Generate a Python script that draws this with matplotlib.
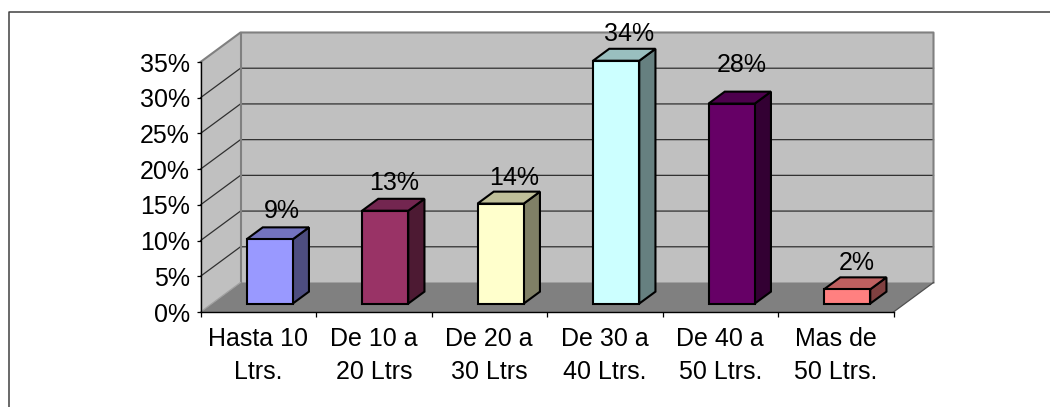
import matplotlib
matplotlib.use("Agg")
import matplotlib.pyplot as plt
from matplotlib.lines import Line2D
from matplotlib.patches import Polygon

categories = ["Hasta 10\nLtrs.", "De 10 a\n20 Ltrs", "De 20 a\n30 Ltrs", "De 30 a\n40 Ltrs.", "De 40 a\n50 Ltrs.", "Mas de\n50 Ltrs."]
values = [9, 13, 14, 34, 28, 2]
value_labels = ["9%", "13%", "14%", "34%", "28%", "2%"]
y_ticks = [0, 5, 10, 15, 20, 25, 30, 35]
y_tick_labels = ["0%", "5%", "10%", "15%", "20%", "25%", "30%", "35%"]

front_colors = ["#9999FF", "#993366", "#FFFFCC", "#CCFFFF", "#660066", "#FF8080"]
top_colors = ["#7373BF", "#732650", "#BFBF99", "#99BFBF", "#4D004D", "#BF6060"]
side_colors = ["#4D4D80", "#4D1A33", "#808066", "#668080", "#330033", "#804040"]

# label shifts in pixels, the original labels are not placed evenly
label_dx = [12, 9, 13.5, 12.5, 10, 9.5]
label_dy = [28, 27.5, 25.5, 27, 38.5, 26]

W, H = 1050, 407
plt.rcParams["font.family"] = ["Liberation Sans", "DejaVu Sans"]

fig = plt.figure(figsize=(W / 100, H / 100), dpi=100)
fig.add_artist(Line2D([8.5 / W, 8.5 / W, 1], [0, 1 - 12 / H, 1 - 12 / H], color="#404040", lw=1.1))

ax = fig.add_axes([200.5 / W, (H - 312) / H, 693 / W, 250 / H])
ax.set_xlim(0, 6)
ax.set_ylim(0, 35)
ax.patch.set_visible(False)

# depth of the fake 3d box, in data units
DX = 40 / 115.5
DY = 29.5 / (250 / 35)
BAR_W = 0.4
D0, D1 = 0.285, 0.69


def pt(x, y, d=0.0):
    return (x + d * DX, y + d * DY)


def poly(points, fc, ec="none", lw=0, z=1):
    ax.add_patch(Polygon(points, closed=True, facecolor=fc, edgecolor=ec, linewidth=lw,
                         zorder=z, clip_on=False, joinstyle="miter"))


# walls and floor
poly([pt(0, 0, 1), pt(6, 0, 1), pt(6, 35, 1), pt(0, 35, 1)], "#C0C0C0", z=1)
poly([pt(0, 0), pt(0, 35), pt(0, 35, 1), pt(0, 0, 1)], "#C0C0C0", z=1)
poly([pt(0, 0), pt(6, 0), pt(6, 0, 1), pt(0, 0, 1)], "#808080", z=1.2)

for t in y_ticks[1:-1]:
    ax.plot(*zip(pt(0, t), pt(0, t, 1), pt(6, t, 1)), color="#303030", lw=0.9, zorder=1.1, clip_on=False)

ax.plot(*zip(pt(0, 35), pt(0, 35, 1), pt(6, 35, 1), pt(6, 0, 1)), color="#808080", lw=1.5, zorder=1.3, clip_on=False)
ax.plot(*zip(pt(0, 0, 1), pt(0, 35, 1)), color="#808080", lw=1.5, zorder=1.3, clip_on=False)
ax.plot(*zip(pt(0, 0), pt(0, 0, 1)), color="#A0A0A0", lw=0.9, zorder=1.3, clip_on=False)
ax.plot(*zip(pt(6, 0), pt(6, 0, 1)), color="#505050", lw=0.9, zorder=1.3, clip_on=False)

# bars
for i, v in enumerate(values):
    x0 = i + 0.5 - BAR_W / 2
    x1 = i + 0.5 + BAR_W / 2
    z = 3 + i
    poly([pt(x1, 0, D0), pt(x1, 0, D1), pt(x1, v, D1), pt(x1, v, D0)], side_colors[i], "black", 1.5, z)
    poly([pt(x0, v, D0), pt(x1, v, D0), pt(x1, v, D1), pt(x0, v, D1)], top_colors[i], "black", 1.5, z)
    poly([pt(x0, 0, D0), pt(x1, 0, D0), pt(x1, v, D0), pt(x0, v, D0)], front_colors[i], "black", 1.5, z + 0.5)
    ax.annotate(value_labels[i], xy=pt(i + 0.5, v, D0), xytext=(label_dx[i] * 0.72, label_dy[i] * 0.72),
                textcoords="offset points", ha="center", va="center", fontsize=18, color="black",
                zorder=20, annotation_clip=False)

for s in ["top", "right"]:
    ax.spines[s].set_visible(False)
for s in ["left", "bottom"]:
    ax.spines[s].set_linewidth(1.0)
    ax.spines[s].set_zorder(2)

ax.set_yticks(y_ticks)
ax.set_yticklabels(y_tick_labels, fontsize=18)
ax.tick_params(axis="y", length=3, width=0.9, pad=4.5)
ax.set_xticks(range(7))
ax.set_xticklabels([])
ax.tick_params(axis="x", length=3.6, width=0.9)
ax.set_xticks([i + 0.5 for i in range(6)], minor=True)
ax.set_xticklabels(categories, minor=True, fontsize=18, linespacing=1.47)
ax.tick_params(axis="x", which="minor", length=0, pad=10.5)

fig.savefig("out.png", dpi=100)
